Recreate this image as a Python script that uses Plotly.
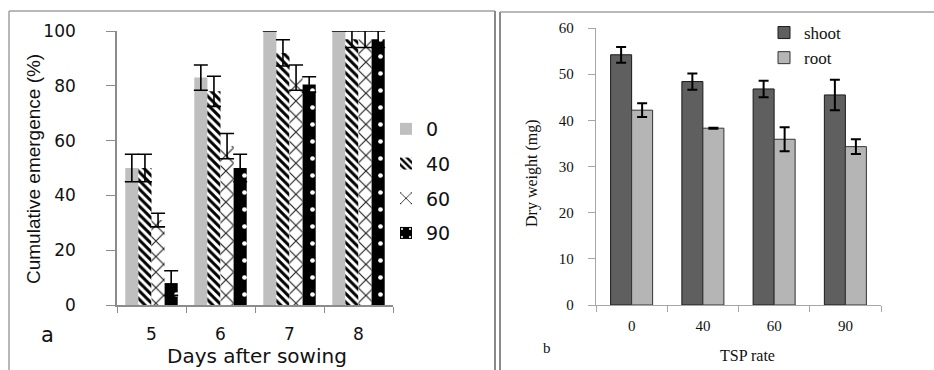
import plotly.graph_objects as go

# ---- Panel a data ----
days = ["5", "6", "7", "8"]
rates_a = ["0", "40", "60", "90"]
emerg_0 = [50, 83, 100, 100]
emerg_40 = [50, 78, 92, 97]
emerg_60 = [31, 58, 83, 97]
emerg_90 = [8, 50, 80.5, 97]
err_0 = [5, 4.6, 0, 0]
err_40 = [5, 5.5, 4.8, 3]
err_60 = [2.5, 4.6, 4.6, 3]
err_90 = [4.5, 5, 2.8, 3]

# ---- Panel b data ----
tsp = ["0", "40", "60", "90"]
shoot = [54.2, 48.4, 46.8, 45.5]
root = [42.2, 38.3, 35.9, 34.3]
shoot_err = [1.7, 1.75, 1.8, 3.3]
root_err = [1.5, 0.1, 2.6, 1.6]

W, H = 934, 370
def px(x): return x / W
def py(y): return 1 - y / H

fig = go.Figure()

sans = "DejaVu Sans"
serif = "Liberation Serif, Times New Roman, serif"
NB = "\u00a0"
FS = "\u2007"

series_a = [
    ("0", emerg_0, err_0, dict(color="#bfbfbf")),
    ("40", emerg_40, err_40, dict(color="white", pattern=dict(shape="\\", fgcolor="black", bgcolor="white", size=6, solidity=0.5, fillmode="replace"))),
    ("60", emerg_60, err_60, dict(color="white", pattern=dict(shape="x", fgcolor="#222222", bgcolor="white", size=11, solidity=0.2, fillmode="replace"))),
    ("90", emerg_90, err_90, dict(color="black", pattern=dict(shape=".", fgcolor="white", bgcolor="black", size=17, solidity=0.06, fillmode="replace"))),
]
bw = 0.19
for i, (name, vals, errs, mk) in enumerate(series_a):
    fig.add_trace(go.Bar(
        x=days, y=vals, name=name, xaxis="x", yaxis="y",
        width=bw, offset=-2 * bw + i * bw,
        marker=dict(line=dict(width=0), **mk),
        error_y=dict(type="data", array=errs, color="black", thickness=1.6, width=7),
        legend="legend", legendgroup=name,
    ))

bw2 = 0.295
fig.add_trace(go.Bar(
    x=tsp, y=shoot, name="shoot", xaxis="x2", yaxis="y2",
    width=bw2, offset=-bw2,
    marker=dict(color="#5f5f5f", line=dict(color="#1a1a1a", width=1)),
    error_y=dict(type="data", array=shoot_err, color="black", thickness=2, width=5),
    legend="legend2",
))
fig.add_trace(go.Bar(
    x=tsp, y=root, name="root", xaxis="x2", yaxis="y2",
    width=bw2, offset=0,
    marker=dict(color="#b5b5b5", line=dict(color="#333333", width=1)),
    error_y=dict(type="data", array=root_err, color="black", thickness=2, width=5),
    legend="legend2",
))

axcol = "#8c8c8c"
fig.update_layout(
    width=W, height=H,
    margin=dict(l=0, r=0, t=0, b=0, autoexpand=False),
    paper_bgcolor="white", plot_bgcolor="white",
    showlegend=True,
    xaxis=dict(domain=[px(117), px(393)], anchor="y", showgrid=False, automargin=False,
               showline=True, linecolor=axcol, linewidth=1.5,
               ticks="outside", tickson="boundaries", ticklen=6, tickcolor=axcol,
               ticklabelstandoff=13,
               tickfont=dict(family=sans, size=17, color="#111")),
    yaxis=dict(domain=[py(305), py(31)], anchor="x", range=[0, 100], showgrid=False, automargin=False,
               showline=True, linecolor=axcol, linewidth=1.5,
               ticks="outside", ticklen=9, tickcolor=axcol, dtick=20,
               ticksuffix=FS * 2 + NB,
               tickfont=dict(family=sans, size=17, color="#111")),
    xaxis2=dict(domain=[px(596), px(881)], anchor="y2", showgrid=False, automargin=False,
                showline=True, linecolor="#a6a6a6", linewidth=1.2,
                ticks="outside", tickson="boundaries", ticklen=6, tickcolor="#a6a6a6",
                ticklabelstandoff=7,
                tickfont=dict(family=serif, size=15, color="#111")),
    yaxis2=dict(domain=[py(305), py(28)], anchor="x2", range=[0, 60], showgrid=False, automargin=False,
                showline=True, linecolor="#a6a6a6", linewidth=1.2,
                ticks="outside", ticklen=7, tickcolor="#a6a6a6", dtick=10,
                ticksuffix=NB * 3,
                tickfont=dict(family=serif, size=15, color="#111")),
    legend=dict(x=px(386), y=py(110), xanchor="left", yanchor="top",
                font=dict(family=sans, size=19, color="#111"),
                bgcolor="rgba(0,0,0,0)", tracegroupgap=7, itemwidth=30),
    legend2=dict(x=px(764), y=py(15), xanchor="left", yanchor="top",
                 font=dict(family=serif, size=17, color="#111"),
                 bgcolor="rgba(0,0,0,0)", itemwidth=30, tracegroupgap=2),
    annotations=[
        dict(text="Cumulative emergence (%)", x=px(33), y=py(169), xref="paper", yref="paper",
             xanchor="center", yanchor="middle",
             showarrow=False, textangle=-90,
             font=dict(family="Liberation Sans Narrow, Liberation Sans", size=19, color="#111")),
        dict(text="Days after sowing", x=px(257), y=py(356), xref="paper", yref="paper",
             xanchor="center", yanchor="middle",
             showarrow=False, font=dict(family=sans, size=20, color="#111")),
        dict(text="Dry weight (mg)", x=px(532), y=py(173), xref="paper", yref="paper",
             xanchor="center", yanchor="middle",
             showarrow=False, textangle=-90, font=dict(family=serif, size=16, color="#111")),
        dict(text="TSP rate", x=px(747), y=py(355), xref="paper", yref="paper",
             xanchor="center", yanchor="middle",
             showarrow=False, font=dict(family=serif, size=16, color="#111")),
        dict(text="a", x=px(47), y=py(335), xref="paper", yref="paper", showarrow=False,
             xanchor="center", yanchor="middle",
             font=dict(family=sans, size=21, color="#111")),
        dict(text="b", x=px(547), y=py(348), xref="paper", yref="paper", showarrow=False,
             xanchor="center", yanchor="middle",
             font=dict(family=serif, size=15, color="#111")),
    ],
    shapes=[
        dict(type="line", xref="paper", yref="paper", x0=px(9), x1=px(9), y0=py(11), y1=py(372), line=dict(color="#a0a0a0", width=1.5)),
        dict(type="line", xref="paper", yref="paper", x0=px(9), x1=px(495), y0=py(11), y1=py(11), line=dict(color="#a0a0a0", width=1.5)),
        dict(type="line", xref="paper", yref="paper", x0=px(495), x1=px(495), y0=py(11), y1=py(372), line=dict(color="#8a8a8a", width=2)),
        dict(type="line", xref="paper", yref="paper", x0=px(500), x1=px(500), y0=py(12), y1=py(372), line=dict(color="#8a8a8a", width=2)),
        dict(type="line", xref="paper", yref="paper", x0=px(500), x1=px(936), y0=py(12), y1=py(12), line=dict(color="#a0a0a0", width=1.5)),
    ],
)

fig.write_html("out.html", config={"displayModeBar": False},
               post_script="document.body.style.margin='0';document.body.style.padding='0';")
